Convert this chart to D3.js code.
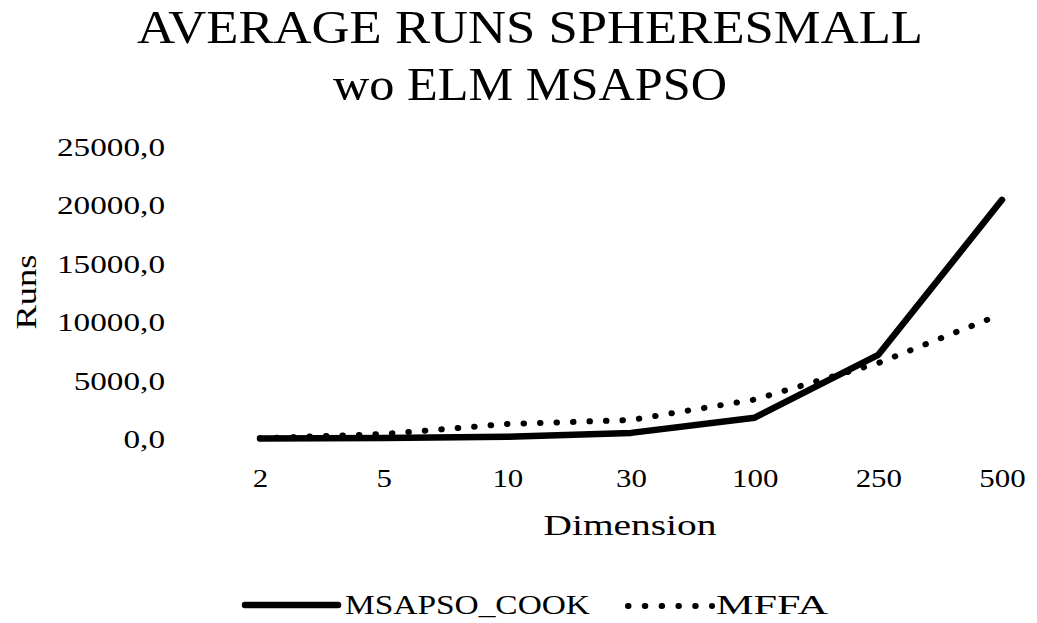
<!DOCTYPE html>
<html>
<head>
<meta charset="utf-8">
<script src="https://cdn.jsdelivr.net/npm/d3@7"></script>
<style>
  html, body { margin: 0; padding: 0; background: #fff; }
  svg { display: block; }
  text { font-family: "Liberation Serif", "DejaVu Serif", serif; fill: #000; }
</style>
</head>
<body>
<svg id="chart" width="1037" height="623"></svg>
<script>
// ---- data ----
const dimensions = ["2", "5", "10", "30", "100", "250", "500"];
const msapsoCook = [10, 40, 150, 480, 1780, 7150, 20400];
const mffa = [20, 380, 1240, 1580, 3330, 6450, 10650];
const yTicks = [0, 5000, 10000, 15000, 20000, 25000];
const titleLines = ["AVERAGE RUNS SPHERESMALL", "wo ELM MSAPSO"];
const seriesNames = ["MSAPSO_COOK", "MFFA"];

const svg = d3.select("#chart");

const x = d3.scalePoint().domain(dimensions).range([260, 1002]);
const y = d3.scaleLinear().domain([0, 25000]).range([438.5, 146]);

function fit(sel, len) {
  sel.attr("textLength", len).attr("lengthAdjust", "spacingAndGlyphs");
}

// title
const t1 = svg.append("text").attr("x", 530).attr("y", 43)
  .attr("text-anchor", "middle").style("font-size", "46px").text(titleLines[0]);
fit(t1, 786);
const t2 = svg.append("text").attr("x", 530).attr("y", 100)
  .attr("text-anchor", "middle").style("font-size", "46px").text(titleLines[1]);
fit(t2, 394);

// y axis
const yAxis = svg.append("g").attr("transform", "translate(165,0)")
  .call(d3.axisLeft(y).tickValues(yTicks).tickSize(0).tickPadding(0)
    .tickFormat(d => d3.format(".1f")(d).replace(".", ",")));
yAxis.select(".domain").remove();
yAxis.selectAll("text").style("font-size", "25px").style("font-family", null)
  .attr("dy", "0.36em");
let kTick = 1.3;
yAxis.selectAll("text").each(function(d) {
  if (d === 25000) kTick = 108 / this.getComputedTextLength();
});
yAxis.selectAll("text").each(function() {
  d3.select(this).attr("textLength", this.getComputedTextLength() * kTick)
    .attr("lengthAdjust", "spacingAndGlyphs");
});

// x axis
const xAxis = svg.append("g").attr("transform", "translate(0,470)")
  .call(d3.axisBottom(x).tickSize(0).tickPadding(0));
xAxis.select(".domain").remove();
xAxis.selectAll("text").style("font-size", "25px").style("font-family", null)
  .attr("dy", "17px");
xAxis.selectAll("text").each(function() {
  d3.select(this).attr("textLength", this.getComputedTextLength() * kTick * 0.93)
    .attr("lengthAdjust", "spacingAndGlyphs");
});

// axis titles
const xt = svg.append("text").attr("x", 630).attr("y", 535)
  .attr("text-anchor", "middle").style("font-size", "29px").text("Dimension");
fit(xt, 173);
const yt = svg.append("text").attr("transform", "translate(36,292) rotate(-90)")
  .attr("text-anchor", "middle").style("font-size", "29px").text("Runs");
fit(yt, 75);

// lines
const line = d3.line().x((d, i) => x(dimensions[i])).y(d => y(d));

svg.append("path").datum(mffa).attr("d", line)
  .attr("fill", "none").attr("stroke", "#000").attr("stroke-width", 6)
  .attr("stroke-linecap", "round").attr("stroke-dasharray", "0.5,16");

svg.append("path").datum(msapsoCook).attr("d", line)
  .attr("fill", "none").attr("stroke", "#000").attr("stroke-width", 6.5)
  .attr("stroke-linecap", "round").attr("stroke-linejoin", "round");

// legend
const lg = svg.append("g");
lg.append("line").attr("x1", 245).attr("x2", 338).attr("y1", 605).attr("y2", 605)
  .attr("stroke", "#000").attr("stroke-width", 6.5).attr("stroke-linecap", "round");
const l1 = lg.append("text").attr("x", 345).attr("y", 614).style("font-size", "27px").text(seriesNames[0]);
fit(l1, 245);
lg.append("line").attr("x1", 628).attr("x2", 712).attr("y1", 606).attr("y2", 606)
  .attr("stroke", "#000").attr("stroke-width", 6).attr("stroke-linecap", "round")
  .attr("stroke-dasharray", "0.5,16.3");
const l2 = lg.append("text").attr("x", 716).attr("y", 614).style("font-size", "27px").text(seriesNames[1]);
fit(l2, 112);
</script>
</body>
</html>
